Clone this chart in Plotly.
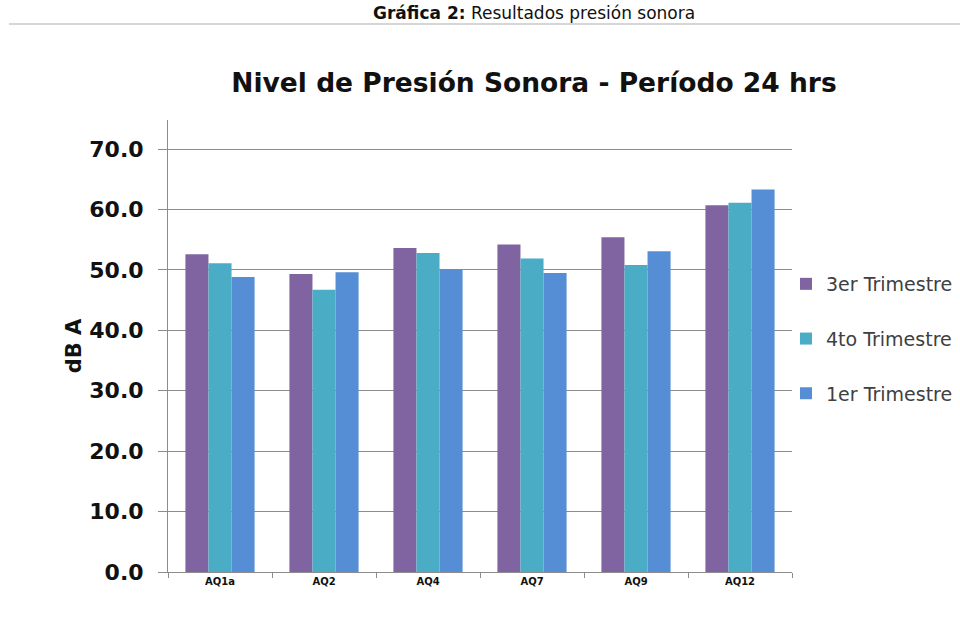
import plotly.graph_objects as go

categories = ["AQ1a", "AQ2", "AQ4", "AQ7", "AQ9", "AQ12"]
series_names = ["3er Trimestre", "4to Trimestre", "1er Trimestre"]
vals_3er = [52.6, 49.3, 53.6, 54.2, 55.4, 60.7]
vals_4to = [51.1, 46.7, 52.8, 51.9, 50.8, 61.1]
vals_1er = [48.8, 49.6, 50.1, 49.5, 53.1, 63.3]
y_ticks = [0, 10, 20, 30, 40, 50, 60, 70]
colors = ["#8064A2", "#4BACC6", "#558ED5"]

W, H = 960, 638
L, R, T, B = 168, 792, 120, 572

def px_x(px):
    return (px - L) / (R - L)

def px_y(py):
    return (B - py) / (B - T)

fig = go.Figure()
for name, vals, col in zip(series_names, [vals_3er, vals_4to, vals_1er], colors):
    fig.add_trace(go.Bar(
        x=categories, y=vals, name=name, legendgroup=name,
        marker=dict(color=col, line=dict(width=0)),
    ))

gray = "#8C8C8C"
dark = "#111111"
fig.update_layout(
    width=W, height=H,
    margin=dict(l=L, r=W - R, t=T, b=H - B, autoexpand=False),
    paper_bgcolor="white", plot_bgcolor="white",
    barmode="group", bargap=0.335, bargroupgap=0,
    font=dict(family="DejaVu Sans", color="#000000"),
    title=dict(
        text="Nivel de Presión Sonora - Período 24 hrs",
        x=534 / W, xanchor="center", xref="container",
        y=1 - 83 / H, yanchor="middle",
        font=dict(size=26.5, color=dark, family="DejaVu Sans", weight="bold"),
    ),
    legend=dict(
        x=px_x(786), xanchor="left", y=px_y(339), yanchor="middle",
        font=dict(size=19, color="#404040", family="DejaVu Sans"),
        tracegroupgap=27, bgcolor="rgba(0,0,0,0)",
    ),
    xaxis=dict(
        type="category", showline=True, linecolor=gray, linewidth=1,
        ticks="outside", tickson="boundaries", ticklen=5, tickcolor=gray,
        showgrid=False,
        tickfont=dict(size=10, color=dark, family="DejaVu Sans", weight="bold"),
    ),
    yaxis=dict(
        range=[0, 74.8], tickvals=y_ticks, tickformat=".1f",
        showline=True, linecolor=gray, linewidth=1,
        ticks="outside", ticklen=9, tickcolor=gray,
        showgrid=True, gridcolor=gray, gridwidth=1, zeroline=False,
        tickfont=dict(size=22, color=dark, family="DejaVu Sans", weight="bold"),
        ticklabelstandoff=10,
        title=dict(text="dB A", font=dict(size=21, color=dark, weight="bold"), standoff=1),
    ),
)

# caption at top
fig.add_annotation(
    text="<b>Gráfica 2:</b> Resultados presión sonora",
    xref="paper", yref="paper", x=px_x(534), y=px_y(1), xanchor="center", yanchor="top",
    showarrow=False, font=dict(size=17, color=dark, family="DejaVu Sans"),
)
fig.add_shape(
    type="line", xref="paper", yref="paper",
    x0=px_x(9), x1=px_x(960), y0=px_y(24), y1=px_y(24),
    line=dict(color="#C8C8C8", width=1.5),
)

fig.write_html("out.html", config={"displayModeBar": False},
               post_script="document.body.style.margin='0';")
